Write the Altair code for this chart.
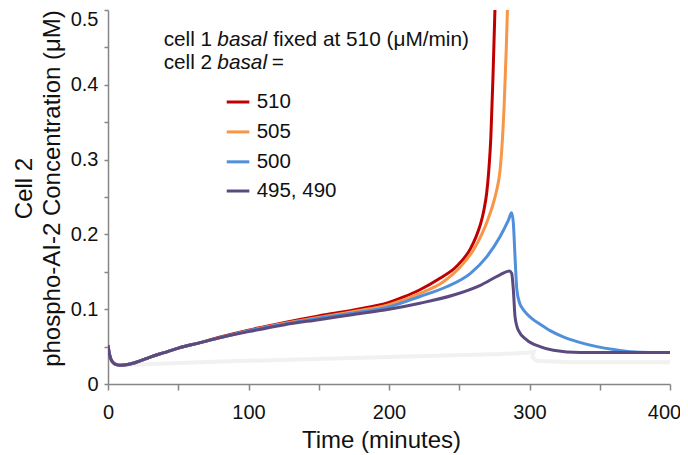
import altair as alt
import pandas as pd

# ---------------- data ----------------
series_names = ["510", "505", "500", "495, 490"]
series_colors = ["#C00000", "#F79646", "#4F8FDB", "#5B4A80"]

red_t = [0, 1, 3, 6, 9, 14, 20, 30, 40, 50, 65, 80, 100, 125, 150, 175, 200, 210, 222, 236, 248, 258, 262, 265, 267.5, 269.5, 271, 272.5, 274, 275.4, 276.5]
red_v = [0.052, 0.040, 0.030, 0.026, 0.025, 0.026, 0.029, 0.036, 0.042, 0.048, 0.055, 0.063, 0.072, 0.082, 0.091, 0.099, 0.109, 0.116, 0.126, 0.141, 0.157, 0.181, 0.197, 0.213, 0.232, 0.255, 0.285, 0.330, 0.410, 0.500, 0.580]

orange_t = [0, 1, 3, 6, 9, 14, 20, 30, 40, 50, 65, 80, 100, 125, 150, 175, 200, 222, 239, 250, 260, 266, 270, 274, 276.5, 279, 280.5, 282, 283.3, 284.3, 285.2]
orange_v = [0.052, 0.040, 0.030, 0.026, 0.025, 0.026, 0.029, 0.036, 0.042, 0.048, 0.055, 0.062, 0.071, 0.081, 0.089, 0.097, 0.106, 0.121, 0.137, 0.155, 0.179, 0.200, 0.218, 0.240, 0.258, 0.285, 0.320, 0.375, 0.440, 0.500, 0.580]

blue_t = [0, 1, 3, 6, 9, 14, 20, 30, 40, 50, 65, 80, 100, 125, 150, 175, 200, 222, 241, 258, 269.5, 279, 285, 287.3, 288.5, 289.7, 291, 293, 295, 298, 302, 307.5, 315, 324, 335, 348, 360, 372, 385, 400]
blue_v = [0.052, 0.040, 0.030, 0.026, 0.025, 0.026, 0.029, 0.036, 0.042, 0.048, 0.055, 0.062, 0.071, 0.080, 0.088, 0.095, 0.103, 0.117, 0.130, 0.148, 0.170, 0.197, 0.219, 0.229, 0.215, 0.170, 0.126, 0.108, 0.101, 0.094, 0.087, 0.080, 0.071, 0.063, 0.056, 0.050, 0.046, 0.043, 0.042, 0.042]

purple_t = [0, 1, 3, 6, 9, 14, 20, 30, 40, 50, 65, 80, 100, 125, 150, 175, 200, 222, 246, 265, 279, 285.6, 287.3, 288.5, 289.7, 292, 298, 307.5, 317, 336, 400]
purple_v = [0.052, 0.040, 0.030, 0.026, 0.025, 0.026, 0.029, 0.036, 0.042, 0.048, 0.055, 0.062, 0.070, 0.079, 0.086, 0.093, 0.100, 0.108, 0.119, 0.132, 0.146, 0.151, 0.148, 0.126, 0.090, 0.072, 0.059, 0.050, 0.045, 0.042, 0.042]

# faint grey shadow visible under the curves
shadow_t = [8, 80, 180, 280, 300, 303, 302, 305, 330, 400]
shadow_v = [0.025, 0.030, 0.035, 0.040, 0.042, 0.043, 0.036, 0.031, 0.029, 0.029]

# annotation text
note_lines_t = [39.6, 77.8, 117.6, 39.6, 77.8, 116.5]
note_lines_v = [0.46, 0.46, 0.46, 0.429, 0.429, 0.429]
note_texts = ["cell 1", "basal", "fixed at 510 (\u03bcM/min)", "cell 2", "basal", "="]
note_italic = [False, True, False, False, True, False]

# manual legend
legend_t1 = 84.5
legend_t2 = 100.6
legend_text_t = 105.8
legend_v = [0.377, 0.337, 0.297, 0.258]

x_ticks = list(range(0, 401, 50))
y_ticks = [0, 0.05, 0.1, 0.15, 0.2, 0.25, 0.3, 0.35, 0.4, 0.45, 0.5]

FONT = "Liberation Sans"

# ---------------- encodings ----------------
X = alt.X(
    "t:Q",
    scale=alt.Scale(domain=[0, 400], nice=False),
    axis=alt.Axis(
        values=x_ticks,
        labelExpr="datum.value % 100 === 0 ? datum.label : ''",
        labelOffset={"condition": {"test": "datum.value >= 399", "value": -6}, "value": 0},
        title="Time (minutes)",
        titleX=273,
    ),
)
Y = alt.Y(
    "v:Q",
    scale=alt.Scale(domain=[0, 0.5], nice=False),
    axis=alt.Axis(
        values=y_ticks,
        labelExpr="round(datum.value * 20) % 2 === 0 ? format(datum.value, '.1~f') : ''",
        labelOffset={"condition": {"test": "datum.value >= 0.49", "value": 9}, "value": 0},
        title=["Cell 2", "phospho-AI-2 Concentration (\u03bcM)"],
        titleY=178,
        titleLineHeight=28,
    ),
)

layers = []

shadow_df = pd.DataFrame({"t": shadow_t, "v": shadow_v, "i": list(range(len(shadow_t)))})
layers.append(
    alt.Chart(shadow_df)
    .mark_line(color="#f1f1f1", strokeWidth=4, clip=True)
    .encode(x=X, y=Y, order="i:Q")
)

for name, col, ts, vs in zip(
    series_names,
    series_colors,
    [red_t, orange_t, blue_t, purple_t],
    [red_v, orange_v, blue_v, purple_v],
):
    d = pd.DataFrame({"t": ts, "v": vs, "i": list(range(len(ts)))})
    layers.append(
        alt.Chart(d)
        .mark_line(color=col, strokeWidth=3, clip=True, interpolate="monotone")
        .encode(x=X, y=Y, order="i:Q")
    )

# legend
leg_df = pd.DataFrame(
    {
        "t": [legend_t1] * 4,
        "t2": [legend_t2] * 4,
        "v": legend_v,
        "name": series_names,
        "lt": [legend_text_t] * 4,
    }
)
layers.append(
    alt.Chart(leg_df)
    .mark_rule(strokeWidth=3)
    .encode(
        x=X,
        x2="t2:Q",
        y=Y,
        color=alt.Color("name:N", scale=alt.Scale(domain=series_names, range=series_colors), legend=None),
    )
)
layers.append(
    alt.Chart(leg_df)
    .mark_text(align="left", baseline="middle", fontSize=20.5, font=FONT, color="#111111")
    .encode(x=alt.X("lt:Q", scale=alt.Scale(domain=[0, 400], nice=False)), y=Y, text="name:N")
)

note_df = pd.DataFrame({"t": note_lines_t, "v": note_lines_v, "txt": note_texts, "it": note_italic})
layers.append(
    alt.Chart(note_df[~note_df["it"]])
    .mark_text(align="left", baseline="middle", fontSize=20.8, font=FONT, color="#111111")
    .encode(x=X, y=Y, text="txt:N")
)
layers.append(
    alt.Chart(note_df[note_df["it"]])
    .mark_text(align="left", baseline="middle", fontSize=20.8, font=FONT, fontStyle="italic", color="#111111")
    .encode(x=X, y=Y, text="txt:N")
)

chart = (
    alt.layer(*layers)
    .properties(
        width=562,
        height=374,
        autosize=alt.AutoSizeParams(type="none"),
        padding={"left": 100, "top": 2, "right": 10, "bottom": 70},
    )
    .configure_view(stroke=None)
    .configure_axis(
        grid=False,
        domainColor="#868686",
        domainWidth=1.5,
        tickColor="#868686",
        tickWidth=1.5,
        labelFont=FONT,
        labelFontSize=20,
        labelColor="#111111",
        titleFont=FONT,
        titleFontSize=24,
        titleFontWeight="normal",
        titleColor="#111111",
        labelFlush=False,
        labelOverlap=False,
    )
    .configure_axisX(tickSize=6, labelPadding=12, titlePadding=6)
    .configure_axisY(tickSize=4, labelPadding=6, titlePadding=6)
)

chart.save("out.html", embed_options={"renderer": "svg", "actions": False})
